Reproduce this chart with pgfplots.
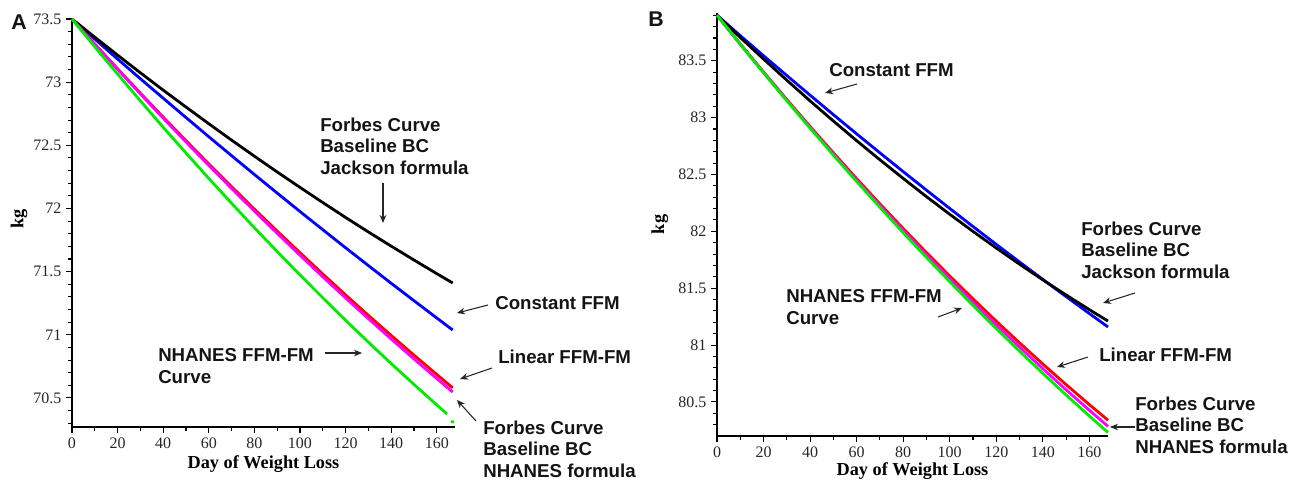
\documentclass[border=0pt]{standalone}
\usepackage{fontspec}
\setmainfont{Liberation Serif}
\newfontfamily\arial{Liberation Sans}
\usepackage{pgfplots}
\pgfplotsset{compat=1.18}
\usetikzlibrary{arrows.meta}

\definecolor{cgreen}{RGB}{0,235,0}
\definecolor{cmag}{RGB}{255,0,255}
\definecolor{txt}{RGB}{20,20,20}

\pgfplotsset{
  wl/.style={
    scale only axis, axis lines*=left, anchor=south west,
    xmin=0, xmax=168,
    xtick={0,20,...,160},
    minor xtick={10,30,50,70,90,110,130,150},
    tick align=outside,
    major tick length=4.5pt, minor tick length=3pt,
    every tick/.style={black, line width=0.8pt},
    axis line style={black, line width=1pt},
    /pgf/number format/assume math mode=true,
    /pgf/number format/fixed,
    tick label style={font=\fontsize{12}{12}\selectfont, text=black!85},
    label style={font=\fontsize{13.7}{14}\selectfont\bfseries},
    xlabel={Day of Weight Loss},
    ylabel={kg},
    clip=false,
  },
  ln/.style={line width=2.1pt, line join=round},
}

\begin{document}
\begin{tikzpicture}[x=0.75pt,y=-0.75pt]
\useasboundingbox (0,0) rectangle (1310,483);

% ---------------- panel A ----------------
\begin{axis}[wl, at={(54pt,-320.25pt)},
  width=287.25pt, height=306pt,
  ymin=70.27, ymax=73.5,
  ytick={70.5,71,71.5,72,72.5,73,73.5},
  minor ytick={70.3,70.4,70.6,70.7,70.8,70.9,71.1,71.2,71.3,71.4,71.6,71.7,71.8,71.9,72.1,72.2,72.3,72.4,72.6,72.7,72.8,72.9,73.1,73.2,73.3,73.4},
  xlabel style={at={(axis description cs:0.5,0)}, anchor=center, yshift=-27.5pt},
  ylabel style={at={(axis description cs:-0.138,0.51)}, anchor=center},
]
\addplot[ln, blue] coordinates {(0,73.5) (10,73.341) (20,73.183) (30,73.027) (40,72.873) (50,72.720) (60,72.568) (70,72.418) (80,72.269) (90,72.122) (100,71.976) (110,71.832) (120,71.689) (130,71.548) (140,71.408) (150,71.270) (160,71.133) (167,71.038)};
\addplot[ln, black] coordinates {(0,73.5) (10,73.356) (20,73.214) (30,73.074) (40,72.937) (50,72.803) (60,72.671) (70,72.541) (80,72.414) (90,72.289) (100,72.167) (110,72.047) (120,71.929) (130,71.814) (140,71.702) (150,71.592) (160,71.484) (167,71.410)};
\addplot[ln, red] coordinates {(0,73.5) (10,73.301) (20,73.106) (30,72.913) (40,72.723) (50,72.537) (60,72.353) (70,72.173) (80,71.995) (90,71.821) (100,71.650) (110,71.481) (120,71.316) (130,71.154) (140,70.995) (150,70.839) (160,70.686) (167,70.580)};
\addplot[ln, cmag] coordinates {(0,73.5) (10,73.299) (20,73.102) (30,72.907) (40,72.715) (50,72.527) (60,72.341) (70,72.159) (80,71.979) (90,71.803) (100,71.630) (110,71.459) (120,71.292) (130,71.128) (140,70.967) (150,70.809) (160,70.654) (167,70.547)};
\addplot[ln, cgreen] coordinates {(0,73.5) (10,73.280) (20,73.064) (30,72.852) (40,72.643) (50,72.439) (60,72.238) (70,72.041) (80,71.848) (90,71.659) (100,71.474) (110,71.293) (120,71.115) (130,70.942) (140,70.772) (150,70.607) (160,70.445) (164.5,70.373)};
\addplot[ln, cgreen] coordinates {(166.3,70.315) (167.5,70.307)};
\end{axis}

% ---------------- panel B ----------------
\begin{axis}[wl, at={(537.75pt,-327pt)},
  width=293.25pt, height=317.25pt,
  ymin=80.2, ymax=83.92,
  ytick={80.5,81,81.5,82,82.5,83,83.5},
  minor ytick={80.3,80.4,80.6,80.7,80.8,80.9,81.1,81.2,81.3,81.4,81.6,81.7,81.8,81.9,82.1,82.2,82.3,82.4,82.6,82.7,82.8,82.9,83.1,83.2,83.3,83.4,83.6,83.7,83.8,83.9},
  xlabel style={at={(axis description cs:0.5,0)}, anchor=center, yshift=-26.5pt},
  ylabel style={at={(axis description cs:-0.146,0.5)}, anchor=center},
]
\addplot[ln, blue] coordinates {(0,83.9) (10,83.721) (20,83.544) (30,83.370) (40,83.197) (50,83.026) (60,82.857) (70,82.690) (80,82.525) (90,82.362) (100,82.201) (110,82.042) (120,81.885) (130,81.730) (140,81.577) (150,81.426) (160,81.277) (168,81.159)};
\addplot[ln, black] coordinates {(0,83.9) (10,83.705) (20,83.515) (30,83.329) (40,83.147) (50,82.970) (60,82.797) (70,82.629) (80,82.465) (90,82.305) (100,82.150) (110,81.999) (120,81.853) (130,81.711) (140,81.573) (150,81.440) (160,81.311) (168,81.211)};
\addplot[ln, red] coordinates {(0,83.9) (10,83.648) (20,83.401) (30,83.159) (40,82.922) (50,82.690) (60,82.463) (70,82.241) (80,82.025) (90,81.813) (100,81.607) (110,81.406) (120,81.210) (130,81.019) (140,80.833) (150,80.652) (160,80.476) (168,80.339)};
\addplot[ln, cmag] coordinates {(0,83.9) (10,83.646) (20,83.397) (30,83.153) (40,82.914) (50,82.680) (60,82.450) (70,82.226) (80,82.006) (90,81.791) (100,81.582) (110,81.377) (120,81.177) (130,80.982) (140,80.792) (150,80.606) (160,80.426) (168,80.285)};
\addplot[ln, cgreen] coordinates {(0,83.9) (10,83.645) (20,83.394) (30,83.148) (40,82.907) (50,82.670) (60,82.438) (70,82.211) (80,81.988) (90,81.770) (100,81.557) (110,81.348) (120,81.145) (130,80.945) (140,80.751) (150,80.561) (160,80.376) (168,80.231)};
\end{axis}

% ---------------- annotations ----------------
\begin{scope}[every node/.style={font=\arial\fontsize{14}{16}\selectfont\bfseries, text=txt, inner sep=0pt},
  arr/.style={-{Stealth[length=6pt,width=5pt]}, line width=0.8pt, black!85}]
\node[anchor=center] at (19,22) {\fontsize{16}{16}\selectfont A};
\node[anchor=center] at (656,19) {\fontsize{16}{16}\selectfont B};

% A
\node[anchor=west, align=left] at (320,146) {Forbes Curve\\Baseline BC\\Jackson formula};
\draw[arr] (383,183) -- (383,223);
\node[anchor=west] at (495,303) {Constant FFM};
\draw[arr] (488,305) -- (457,313);
\node[anchor=west] at (498,357) {Linear FFM-FM};
\draw[arr] (492,368) -- (460,379);
\node[anchor=west, align=left] at (483,449) {Forbes Curve\\Baseline BC\\NHANES formula};
\draw[arr] (476,421) -- (457,400);
\node[anchor=west, align=left] at (158,366) {NHANES FFM-FM\\Curve};
\draw[arr] (325,353) -- (362,353);

% B
\node[anchor=west] at (829,70) {Constant FFM};
\draw[arr] (857,84) -- (825,93);
\node[anchor=west, align=left] at (1081,250) {Forbes Curve\\Baseline BC\\Jackson formula};
\draw[arr] (1135,293) -- (1103,303);
\node[anchor=west] at (1099,355) {Linear FFM-FM};
\draw[arr] (1088,357) -- (1057,367);
\node[anchor=west, align=left] at (1135,425) {Forbes Curve\\Baseline BC\\NHANES formula};
\draw[arr] (1135,427) -- (1110,427);
\node[anchor=west, align=left] at (786,307) {NHANES FFM-FM\\Curve};
\draw[arr] (938,317) -- (962,308);
\end{scope}
\end{tikzpicture}
\end{document}
